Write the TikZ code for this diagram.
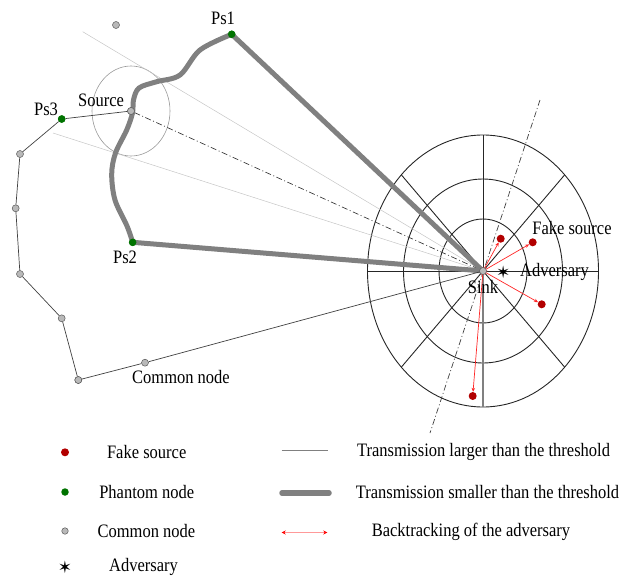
\documentclass[tikz,border=0pt]{standalone}
\usepackage{fontspec}
\setmainfont{Liberation Serif}
\newfontfamily\djv{DejaVu Sans}
\usetikzlibrary{arrows.meta,shapes.geometric}
\newcommand{\tall}[1]{\scalebox{1}[1.15]{#1}}
\begin{document}
\begin{tikzpicture}[x=1pt,y=-1pt,
  common/.style={circle, draw=black!65, fill=gray!55, line width=0.5pt, inner sep=0pt, minimum size=7pt},
  phantom/.style={circle, fill=green!45!black, inner sep=0pt, minimum size=7.5pt},
  fake/.style={circle, fill=red!70!black, inner sep=0pt, minimum size=8pt},
  advstar/.style={inner sep=0pt, font=\djv\fontsize{17}{17}\selectfont},
  thinlink/.style={black!75, line width=0.7pt},
  thicklink/.style={gray, line width=5pt, line cap=round, line join=round},
  guide/.style={gray!45, line width=0.5pt},
  dashdot/.style={black!75, line width=0.7pt, dash pattern=on 6pt off 2.5pt on 1pt off 2.5pt},
  gridline/.style={black!85, line width=0.9pt},
  back/.style={red!85, line width=0.7pt, {Stealth[length=4pt,width=3.5pt]}-{Stealth[length=4pt,width=3.5pt]}},
  lbl/.style={font=\fontsize{16.5}{18}\selectfont, inner sep=0pt}]
\useasboundingbox (0,0) rectangle (622,576);

% nodes (positions)
\coordinate (sink) at (483,271);
\coordinate (g1) at (82.7,31.7);
\coordinate (g2) at (53,133);
\coordinate (dtop) at (540,100);
\coordinate (dbot) at (430,433);

% polar grid around the sink
\draw[gridline] (sink) ellipse [x radius=44, y radius=52];
\draw[gridline] (sink) ellipse [x radius=79.5, y radius=92];
\draw[gridline] (sink) ellipse [x radius=115.5, y radius=136];
\coordinate (gt) at (483,135);
\coordinate (gb) at (483,407);
\coordinate (gl) at (367.5,271);
\coordinate (gr) at (598.5,271);
\coordinate (gul) at (401.3,174.8);
\coordinate (gdr) at (564.7,367.2);
\coordinate (gur) at (564.7,174.8);
\coordinate (gdl) at (401.3,367.2);
\draw[gridline] (gt) -- (sink);
\draw[gray, line width=1.6pt] (sink) -- (gb);
\draw[gridline] (gl) -- (gr);
\draw[gridline] (gul) -- (gdr);
\draw[gridline] (gur) -- (gdl);

% source and its circle
\node[common] (src) at (131,111) {};
\draw[gray!80, line width=0.6pt] (src) ellipse [x radius=39, y radius=45];

% guide lines
\draw[guide] (g1) -- (sink);
\draw[guide] (g2) -- (sink);
\draw[dashdot] (src) -- (sink);
\draw[dashdot] (dtop) -- (dbot);

% phantom nodes
\node[phantom] (ps1) at (231.7,34.3) {};
\node[phantom] (ps2) at (132.7,242.3) {};
\node[phantom] (ps3) at (61.7,119) {};

% thick transmissions
\draw[thicklink] plot[smooth, tension=0.55] coordinates {(ps1.center) (200,50) (180,75) (156.7,81.7) (139,88) (133.5,100) (132.5,113) (126.7,130) (115.5,153) (111.7,174) (115,200) (127,226) (ps2.center)};
\draw[thicklink] (ps1.center) -- (sink);
\draw[thicklink] (ps2.center) -- (sink);

% common nodes chain
\node[common] (iso) at (116,25) {};
\node[common] (c1) at (20,154) {};
\node[common] (c2) at (15.7,208.3) {};
\node[common] (c3) at (20,274) {};
\node[common] (c4) at (61.7,318.3) {};
\node[common] (c5) at (78.3,380) {};
\node[common] (c6) at (145,362.7) {};
\draw[thinlink] (src) -- (ps3) -- (c1) -- (c2) -- (c3) -- (c4) -- (c5) -- (c6) -- (sink);

% redraw nodes on top
\node[common] at (src) {};
\node[phantom] at (ps1) {};
\node[phantom] at (ps2) {};
\node[phantom] at (ps3) {};
\node[common] at (c5) {};

% fake sources and backtracking
\node[fake] (f1) at (500.7,238.7) {};
\node[fake] (f2) at (532.7,242.3) {};
\node[fake] (f3) at (541.7,304.3) {};
\node[fake] (f4) at (472.7,396) {};
\draw[back] (sink) -- (f1);
\draw[back] (sink) -- (f2);
\draw[back] (sink) -- (f3);
\draw[back] (sink) -- (f4);
\node[common] (sinknode) at (sink) {};
\node[advstar] (adv) at (503.3,272.3) {✶};

% labels
\node[lbl] at (223,18) {\tall{Ps1}};
\node[lbl] at (125,257) {\tall{Ps2}};
\node[lbl] at (46,109) {\tall{Ps3}};
\node[lbl] at (101,100) {\tall{Source}};
\node[lbl] at (483,287) {\tall{Sink}};
\node[lbl, anchor=west] at (520,272) {\tall{Adversary}};
\node[lbl] at (572,228) {\tall{Fake source}};
\node[lbl] at (181,377) {\tall{Common node}};

% legend
\node[fake] (lf) at (65,452.3) {};
\node[phantom] (lp) at (65,492) {};
\node[common, minimum size=6.5pt] (lc) at (65,531) {};
\node[advstar] (la) at (65,567) {✶};
\node[lbl] at (146.7,452) {\tall{Fake source}};
\node[lbl] at (146.7,492) {\tall{Phantom node}};
\node[lbl] at (146.4,531.5) {\tall{Common node}};
\node[lbl] at (143.5,566.5) {\tall{Adversary}};

\coordinate (l1a) at (281.7,450.5);
\coordinate (l1b) at (328.3,450.5);
\coordinate (l2a) at (282,493);
\coordinate (l2b) at (329,493);
\coordinate (l3a) at (281.7,532.5);
\coordinate (l3b) at (327.3,532.5);
\draw[gray, line width=1pt] (l1a) -- (l1b);
\draw[thicklink, line width=5.5pt] (l2a) -- (l2b);
\draw[back, draw=red!40, line width=1pt, {Stealth[length=4pt,width=4pt,red]}-{Stealth[length=4pt,width=4pt,red]}] (l3a) -- (l3b);
\node[lbl] at (483.5,452) {\tall{Transmission larger than the threshold}};
\node[lbl] at (487.5,492) {\tall{Transmission smaller than the threshold}};
\node[lbl] at (471,531.5) {\tall{Backtracking of the adversary}};
\end{tikzpicture}
\end{document}
